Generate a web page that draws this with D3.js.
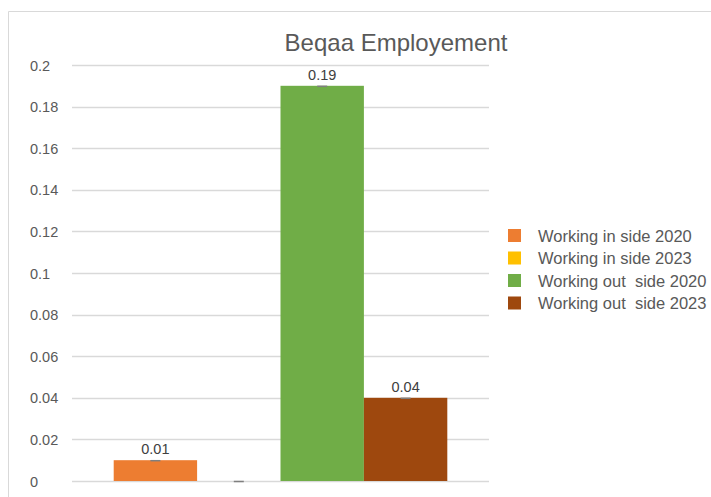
<!DOCTYPE html>
<html>
<head>
<meta charset="utf-8">
<script src="https://cdn.jsdelivr.net/npm/d3@7"></script>
<style>
  html, body { margin: 0; padding: 0; background: #fff; }
  svg { display: block; font-family: "Liberation Sans", Arial, sans-serif; }
  .legend-label { white-space: pre; }
</style>
</head>
<body>
<svg id="chart" width="711" height="497"></svg>
<script>
// Beqaa employment shares by series
const seriesNames = ["Working in side 2020", "Working in side 2023", "Working out  side 2020", "Working out  side 2023"];
const seriesValues = [0.01, 0, 0.19, 0.04];
const valueLabels = ["0.01", "", "0.19", "0.04"];
const seriesColors = ["#ED7D31", "#FFC000", "#70AD47", "#9E480E"];
const yTicks = [0, 0.02, 0.04, 0.06, 0.08, 0.1, 0.12, 0.14, 0.16, 0.18, 0.2];
const yTickLabels = ["0", "0.02", "0.04", "0.06", "0.08", "0.1", "0.12", "0.14", "0.16", "0.18", "0.2"];
const chartTitle = "Beqaa Employement";

const svg = d3.select("#chart");
const plot = { left: 72, right: 489, top: 65, bottom: 481 };

// chart frame
svg.append("path")
  .attr("d", "M8.5,497 L8.5,11.5 L711,11.5")
  .attr("fill", "none").attr("stroke", "#d9d9d9").attr("stroke-width", 1);

const y = d3.scaleLinear().domain([0, 0.2]).range([plot.bottom, plot.top]);
const x = d3.scaleBand().domain(seriesNames)
  .range([plot.left, plot.right]).paddingOuter(0.5).paddingInner(0);

// gridlines
svg.append("g").selectAll("line").data(yTicks).join("line")
  .attr("x1", plot.left).attr("x2", plot.right)
  .attr("y1", d => Math.round(y(d)) + 0.5).attr("y2", d => Math.round(y(d)) + 0.5)
  .attr("stroke", "#d9d9d9").attr("stroke-width", 1.3);

// y tick labels via axis
const yAxis = d3.axisLeft(y).tickValues(yTicks)
  .tickFormat((d, i) => yTickLabels[i]).tickSize(0).tickPadding(0);
const gy = svg.append("g").attr("transform", "translate(30,0)").call(yAxis);
gy.select(".domain").remove();
gy.selectAll("text")
  .attr("text-anchor", "start").attr("x", 0).attr("dy", "0.35em")
  .attr("fill", "#595959").style("font-size", "14.5px");

// bars
const rows = seriesNames.map((n, i) => ({ name: n, value: seriesValues[i], label: valueLabels[i], color: seriesColors[i] }));
svg.append("g").selectAll("rect").data(rows).join("rect")
  .attr("x", d => x(d.name)).attr("width", x.bandwidth())
  .attr("y", d => y(d.value)).attr("height", d => y(0) - y(d.value))
  .attr("fill", d => d.color);

// small markers at bar tops
svg.append("g").selectAll("line").data(rows).join("line")
  .attr("x1", d => x(d.name) + x.bandwidth() / 2 - 5)
  .attr("x2", d => x(d.name) + x.bandwidth() / 2 + 5)
  .attr("y1", d => y(d.value) + 0.5).attr("y2", d => y(d.value) + 0.5)
  .attr("stroke", "#7f7f7f").attr("stroke-width", 1.5);

// value labels
svg.append("g").selectAll("text").data(rows.filter(d => d.label)).join("text")
  .attr("x", d => x(d.name) + x.bandwidth() / 2)
  .attr("y", d => y(d.value) - 6)
  .attr("text-anchor", "middle").attr("fill", "#404040")
  .style("font-size", "14.5px").text(d => d.label);

// title
svg.append("text").attr("x", 396).attr("y", 51)
  .attr("text-anchor", "middle").attr("fill", "#595959")
  .style("font-size", "24px").text(chartTitle);

// legend
const leg = svg.append("g").selectAll("g").data(rows).join("g")
  .attr("transform", (d, i) => `translate(508,${229 + i * 22.5})`);
leg.append("rect").attr("width", 13).attr("height", 13).attr("fill", d => d.color);
leg.append("text").attr("class", "legend-label").attr("x", 30).attr("y", 7).attr("dy", "0.35em")
  .attr("fill", "#595959").style("font-size", "16.5px").text(d => d.name);
</script>
</body>
</html>
